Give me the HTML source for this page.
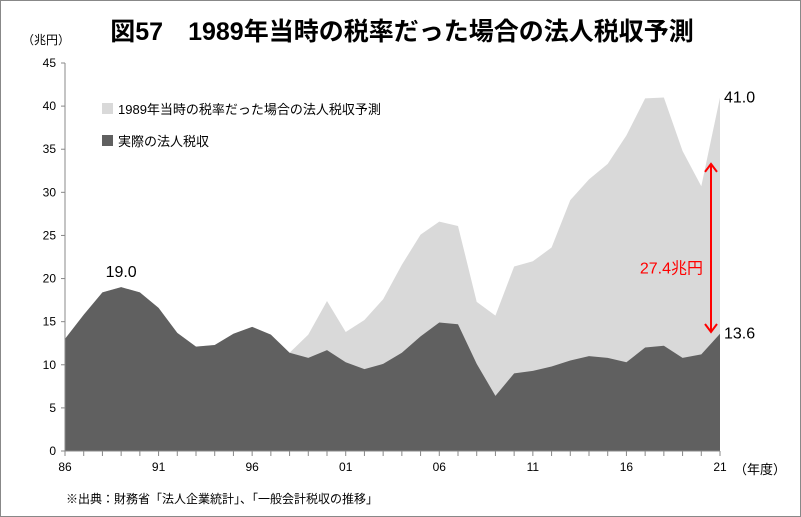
<!DOCTYPE html>
<html><head><meta charset="utf-8"><style>
body{margin:0;background:#fff}
svg{display:block;font-family:"Liberation Sans","Noto Sans CJK JP",sans-serif}
</style></head><body>
<svg width="801" height="517" viewBox="0 0 801 517">
<rect x="0.5" y="0.5" width="800" height="516" fill="#fff" stroke="#888"/>
<text x="402" y="40" font-size="25" font-weight="bold" text-anchor="middle">図57　1989年当時の税率だった場合の法人税収予測</text>
<text x="46" y="44" font-size="12" text-anchor="middle">（兆円）</text>
<g id="plot"></g>
<text x="734" y="474" font-size="13">（年度）</text>
<text x="66" y="503" font-size="12">※出典：財務省「法人企業統計」、「一般会計税収の推移」</text>
<rect x="102" y="103" width="11" height="11" fill="#d9d9d9"/>
<text x="118" y="114" font-size="13">1989年当時の税率だった場合の法人税収予測</text>
<rect x="102" y="135" width="11" height="11" fill="#606060"/>
<text x="118" y="146" font-size="13">実際の法人税収</text>
</svg>
<script>
const years=[86,87,88,89,90,91,92,93,94,95,96,97,98,99,0,1,2,3,4,5,6,7,8,9,10,11,12,13,14,15,16,17,18,19,20,21];
const actual=[13.0,15.8,18.4,19.0,18.4,16.6,13.7,12.1,12.3,13.6,14.4,13.5,11.4,10.8,11.7,10.3,9.5,10.1,11.4,13.3,14.9,14.7,10.1,6.4,9.0,9.3,9.8,10.5,11.0,10.8,10.3,12.0,12.2,10.8,11.2,13.6];
const forecast=[13.0,15.8,18.4,19.0,18.4,16.6,13.7,12.1,12.3,13.6,14.4,13.5,11.4,13.5,17.4,13.8,15.2,17.6,21.6,25.1,26.6,26.1,17.3,15.7,21.4,22.0,23.6,29.1,31.5,33.3,36.6,40.9,41.0,34.8,30.7,41.0];
const yTicks=[0,5,10,15,20,25,30,35,40,45];
const xLabels=["86","91","96","01","06","11","16","21"];
const X0=65,X1=720,Y0=451,Y1=63;
const sx=i=>X0+(X1-X0)*i/(years.length-1);
const sy=v=>Y0-(Y0-Y1)*v/45;
const NS="http://www.w3.org/2000/svg";
const g=document.getElementById('plot');
function mk(t,a){const e=document.createElementNS(NS,t);for(const k in a)e.setAttribute(k,a[k]);g.appendChild(e);return e;}
function areaPath(vals){let d=`M${sx(0)},${Y0}`;vals.forEach((v,i)=>d+=` L${sx(i)},${sy(v)}`);return d+` L${sx(vals.length-1)},${Y0} Z`;}
const f=mk('path',{d:areaPath(forecast),fill:'#d9d9d9'});


const a=mk('path',{d:areaPath(actual),fill:'#606060'});


const ya=mk('line',{x1:X0,y1:Y1,x2:X0,y2:Y0,stroke:'#888'});


const xa=mk('line',{x1:X0,y1:Y0,x2:X1,y2:Y0,stroke:'#888'});


yTicks.forEach(v=>{
  mk('line',{x1:X0-4,y1:sy(v),x2:X0,y2:sy(v),stroke:'#888'});
  const t=mk('text',{x:X0-9,y:sy(v)+4,'font-size':12,'text-anchor':'end'});t.textContent=v;
  
  
});
years.forEach((y,i)=>{mk('line',{x1:sx(i),y1:Y0,x2:sx(i),y2:Y0+5,stroke:'#888'});});
xLabels.forEach((l,k)=>{
  const t=mk('text',{x:sx(k*5),y:Y0+20,'font-size':12,'text-anchor':'middle'});t.textContent=l;
  
  
});
const l1=mk('text',{x:sx(3),y:sy(19.0)-10,'font-size':16,'text-anchor':'middle'});l1.textContent="19.0";


const n=years.length-1;
const l2=mk('text',{x:sx(n)+4,y:sy(forecast[n])+5,'font-size':16});l2.textContent=forecast[n].toFixed(1);


const l3=mk('text',{x:sx(n)+4,y:sy(actual[n])+5,'font-size':16});l3.textContent=actual[n].toFixed(1);


const ax=sx(n)-9, ay1=sy(33.3), ay2=sy(13.8);
const arr=mk('path',{d:`M${ax},${ay1} L${ax},${ay2} M${ax-6},${ay1+8} L${ax},${ay1} L${ax+6},${ay1+8} M${ax-6},${ay2-8} L${ax},${ay2} L${ax+6},${ay2-8}`,stroke:'#ff0000','stroke-width':2,fill:'none'});


const gl=mk('text',{x:ax-8,y:sy(20.6),'font-size':16,fill:'#ff0000','text-anchor':'end'});gl.textContent=(forecast[n]-actual[n]).toFixed(1)+"兆円";


</script>
</body></html>
